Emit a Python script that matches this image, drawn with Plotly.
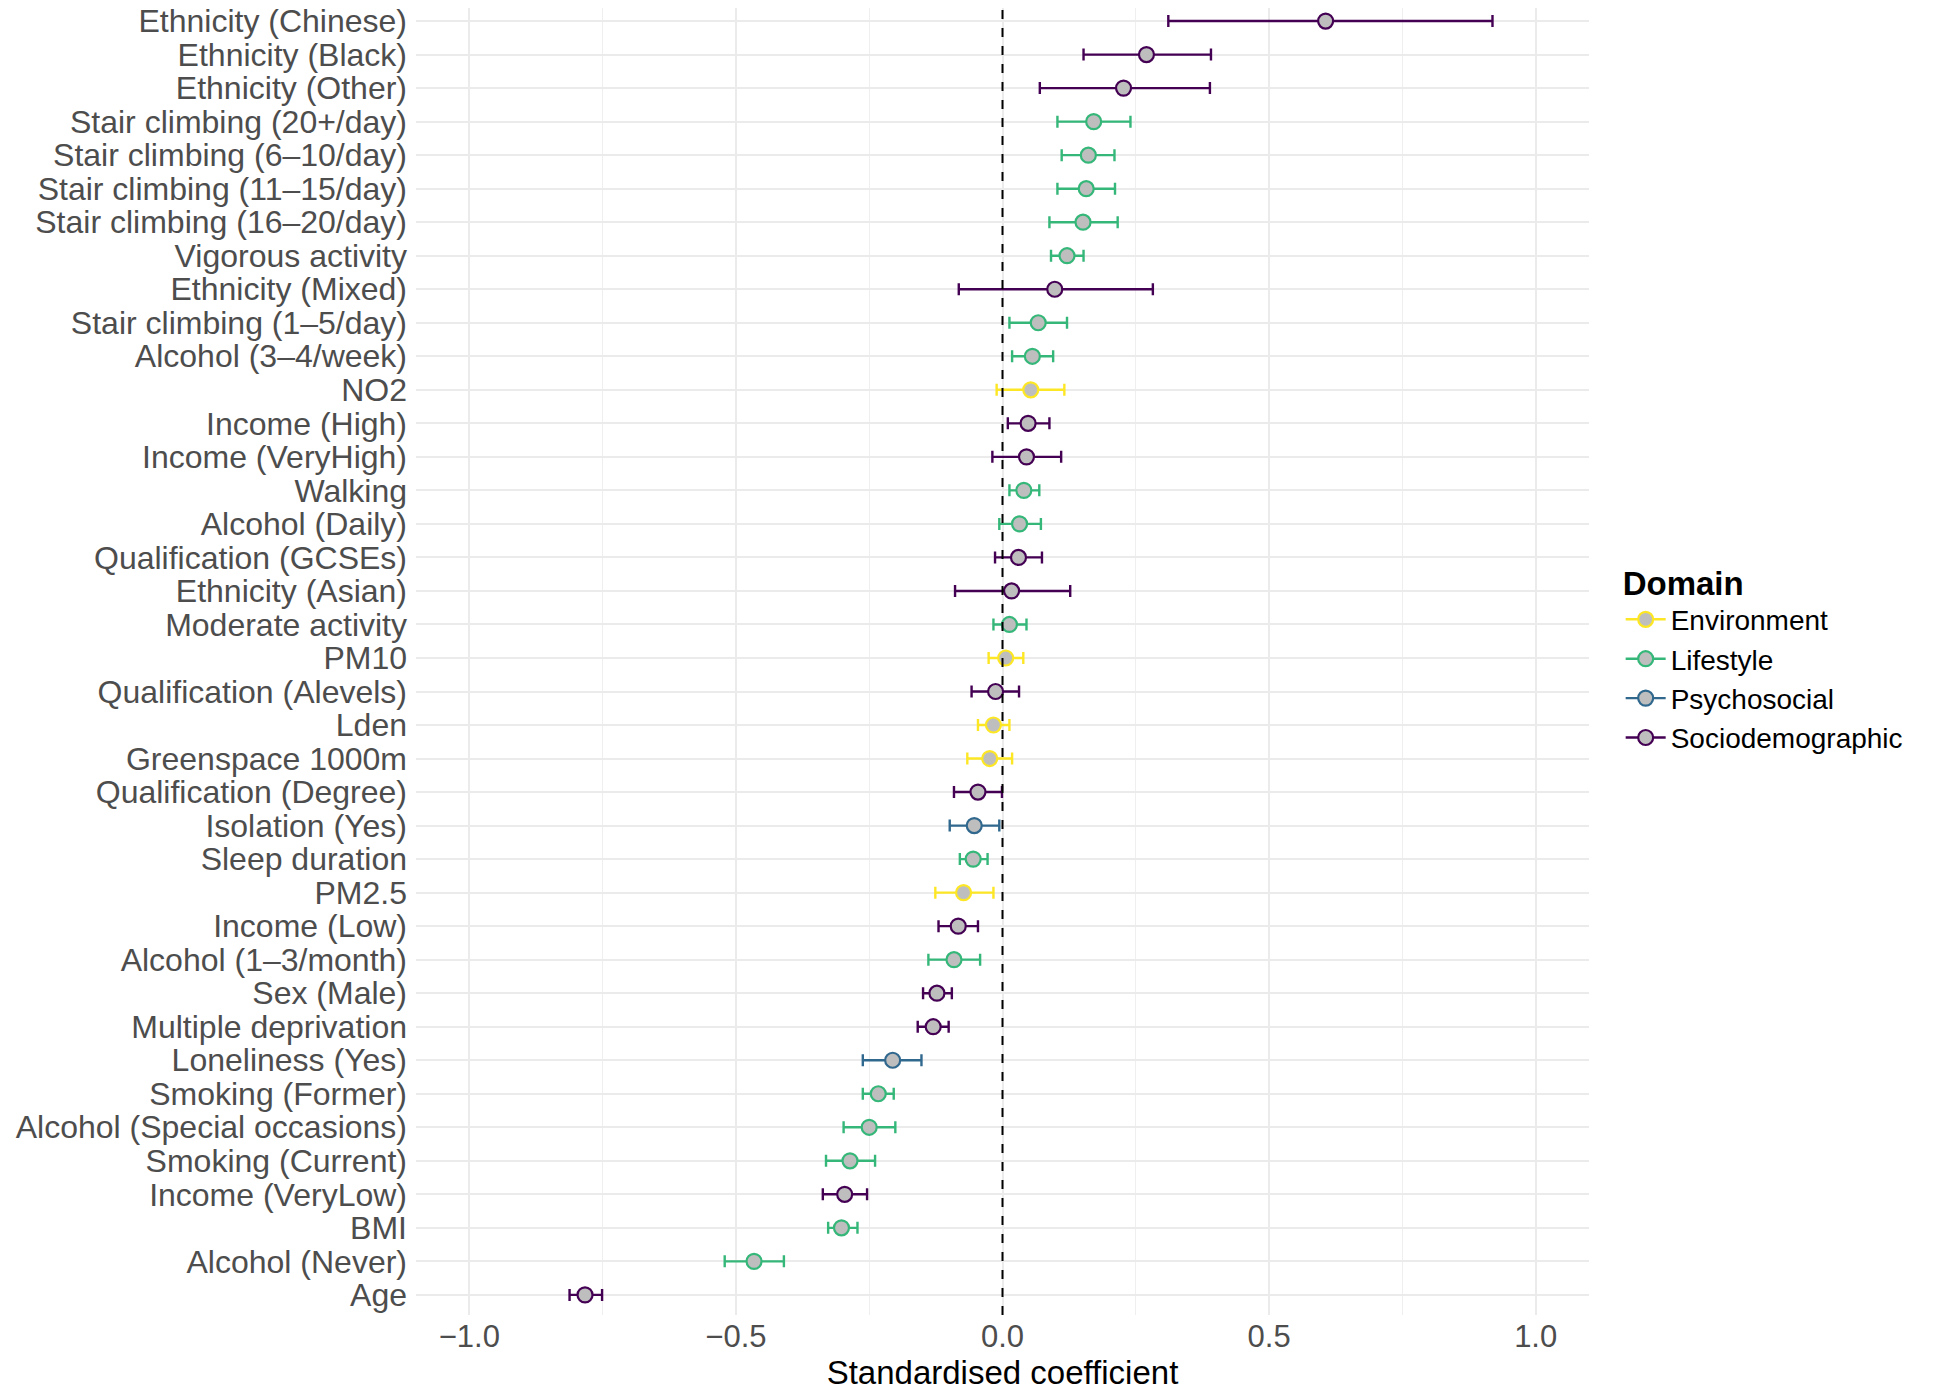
import plotly.graph_objects as go

# predictors, top to bottom as in the figure
labels = [
    "Ethnicity (Chinese)", "Ethnicity (Black)", "Ethnicity (Other)",
    "Stair climbing (20+/day)", "Stair climbing (6–10/day)", "Stair climbing (11–15/day)",
    "Stair climbing (16–20/day)", "Vigorous activity", "Ethnicity (Mixed)",
    "Stair climbing (1–5/day)", "Alcohol (3–4/week)", "NO2", "Income (High)",
    "Income (VeryHigh)", "Walking", "Alcohol (Daily)", "Qualification (GCSEs)",
    "Ethnicity (Asian)", "Moderate activity", "PM10", "Qualification (Alevels)",
    "Lden", "Greenspace 1000m", "Qualification (Degree)", "Isolation (Yes)",
    "Sleep duration", "PM2.5", "Income (Low)", "Alcohol (1–3/month)", "Sex (Male)",
    "Multiple deprivation", "Loneliness (Yes)", "Smoking (Former)",
    "Alcohol (Special occasions)", "Smoking (Current)", "Income (VeryLow)", "BMI",
    "Alcohol (Never)", "Age",
]
S, L, E, P = "Sociodemographic", "Lifestyle", "Environment", "Psychosocial"
domain = [
    S, S, S, L, L, L, L, L, S, L, L, E, S,
    S, L, L, S, S, L, E, S, E, E, S, P, L,
    E, S, L, S, S, P, L, L, L, S, L, L, S,
]
estimate = [
    0.606, 0.270, 0.227, 0.171, 0.161, 0.157, 0.151, 0.121, 0.098, 0.067, 0.056, 0.053, 0.048,
    0.045, 0.040, 0.032, 0.030, 0.017, 0.013, 0.006, -0.013, -0.017, -0.024, -0.046, -0.053, -0.055,
    -0.073, -0.083, -0.091, -0.123, -0.130, -0.206, -0.233, -0.250, -0.286, -0.296, -0.302, -0.466, -0.783,
]
ci_low = [
    0.311, 0.152, 0.070, 0.103, 0.111, 0.103, 0.088, 0.091, -0.082, 0.013, 0.018, -0.011, 0.010,
    -0.019, 0.013, -0.006, -0.014, -0.089, -0.017, -0.026, -0.058, -0.046, -0.066, -0.091, -0.099, -0.080,
    -0.126, -0.120, -0.139, -0.149, -0.159, -0.262, -0.262, -0.298, -0.331, -0.337, -0.327, -0.521, -0.812,
]
ci_high = [
    0.919, 0.391, 0.389, 0.240, 0.210, 0.211, 0.216, 0.152, 0.282, 0.121, 0.095, 0.116, 0.088,
    0.110, 0.069, 0.072, 0.074, 0.127, 0.045, 0.039, 0.031, 0.013, 0.018, -0.001, -0.006, -0.028,
    -0.017, -0.046, -0.042, -0.095, -0.101, -0.152, -0.204, -0.201, -0.239, -0.254, -0.272, -0.410, -0.751,
]

domains = ["Environment", "Lifestyle", "Psychosocial", "Sociodemographic"]
colours = {"Environment": "#FDE725", "Lifestyle": "#35B779",
           "Psychosocial": "#31688E", "Sociodemographic": "#440154"}
x_ticks = [-1.0, -0.5, 0.0, 0.5, 1.0]
x_tick_text = ["−1.0", "−0.5", "0.0", "0.5", "1.0"]

FONT = "Liberation Sans, Arial, sans-serif"
FILL = "rgba(190,190,190,1)"

fig = go.Figure()

for d in domains:
    idx = [i for i, v in enumerate(domain) if v == d]
    fig.add_trace(go.Scatter(
        x=[estimate[i] for i in idx],
        y=[labels[i] for i in idx],
        mode="markers",
        marker=dict(size=15, color=FILL, line=dict(color=colours[d], width=2.2)),
        error_x=dict(type="data", symmetric=False,
                     array=[ci_high[i] - estimate[i] for i in idx],
                     arrayminus=[estimate[i] - ci_low[i] for i in idx],
                     color=colours[d], thickness=2.4, width=6),
        showlegend=False,
        legendgroup=d,
    ))

# legend entries (point + line glyph like ggplot pointrange)
for d in domains:
    fig.add_trace(go.Scatter(
        x=[None], y=[None], mode="lines+markers", name=d, legendgroup=d,
        marker=dict(size=15, color=FILL, line=dict(color=colours[d], width=2.2)),
        line=dict(color=colours[d], width=2.4),
    ))

fig.add_vline(x=0, line=dict(color="black", width=2, dash="dash"))

fig.update_layout(
    width=1946, height=1385,
    paper_bgcolor="white", plot_bgcolor="white",
    margin=dict(l=408, r=365, t=0, b=78, autoexpand=False),
    font=dict(family=FONT, color="black"),
    legend=dict(
        title=dict(text="<b>Domain</b>", font=dict(size=33, color="black")),
        font=dict(size=28, color="black"),
        x=1.027, y=0.584, xanchor="left", yanchor="top",
        tracegroupgap=0, itemwidth=40,
    ),
)
fig.update_xaxes(
    range=[-1.1, 1.1],
    tickvals=x_ticks, ticktext=x_tick_text,
    tickfont=dict(size=31, color="#4D4D4D", family=FONT),
    showgrid=True, gridcolor="#EBEBEB", gridwidth=1.6,
    minor=dict(dtick=0.25, showgrid=True, gridcolor="#EFEFEF", gridwidth=1.2),
    zeroline=False, showline=False, ticks="", automargin=False,
    title=dict(text="Standardised coefficient", font=dict(size=33, color="black"), standoff=4),
)
fig.update_yaxes(
    type="category", categoryorder="array", categoryarray=labels[::-1],
    tickmode="array", tickvals=labels, ticktext=labels,
    range=[-0.6, len(labels) - 1 + 0.39],
    tickfont=dict(size=32, color="#4D4D4D", family=FONT),
    showgrid=True, gridcolor="#EBEBEB", gridwidth=1.6,
    zeroline=False, showline=False, ticks="", ticklabelstandoff=8, automargin=False,
)

fig.write_html("out.html")
